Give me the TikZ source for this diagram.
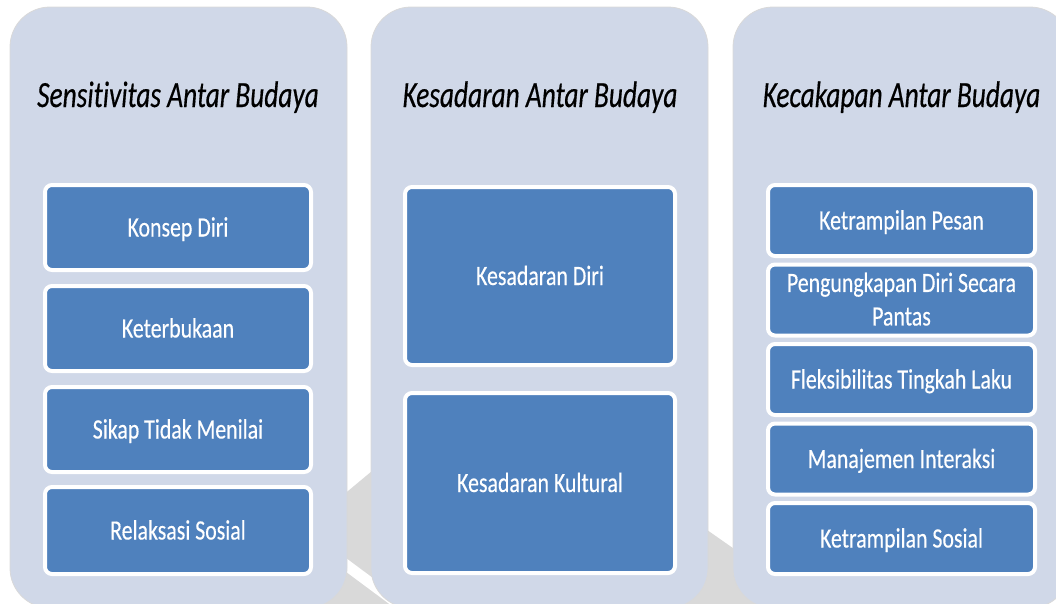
\documentclass[tikz,border=0pt]{standalone}
\usepackage{fontspec}
\setmainfont{Carlito}[FakeStretch=0.78, FakeBold=0.3, Ligatures=NoCommon]
\newfontfamily\judulfont{Carlito}[FakeStretch=0.74, FakeBold=0.4, Ligatures=NoCommon]
\definecolor{panelbiru}{HTML}{D0D8E8}
\definecolor{kotakbiru}{HTML}{4F81BD}
\definecolor{abu}{HTML}{D9D9D9}

\begin{document}
\begin{tikzpicture}[x=1pt,y=-1pt,
	panel/.style={draw=black!15, line width=0.8pt, fill=panelbiru, rounded corners=40pt,
		minimum width=337pt, minimum height=601pt, inner sep=0pt},
	judul/.style={font=\judulfont\itshape\fontsize{37}{44}\selectfont,
		text height=24pt, text depth=0pt, inner sep=0pt},
	kotak/.style={draw=white, line width=4pt, fill=kotakbiru, rounded corners=7pt,
		text=white, font=\fontsize{28}{33.5}\selectfont, align=center,
		text depth=0pt, inner sep=0pt},
	satu/.style={kotak, text height=18pt}]
	\useasboundingbox (0,0) rectangle (1056,603);
	\clip (0,0) rectangle (1056,603);
	% lengkung abu-abu di belakang
	\fill[abu] (312,640) -- (322,560) -- (330,506) -- (390,456) -- (690,518) -- (750,560) -- (830,640) -- cycle;
	\draw[white, line width=11pt] (334,556) -- (404,608);
	% tiga panel
	\node[panel] (sens) at (178.5,307.5) {};
	\node[panel] (kesad) at (539.5,307.5) {};
	\node[panel] (kecak) at (901.5,307.5) {};
	\node[judul] (jsens) at (178,95) {Sensitivitas Antar Budaya};
	\node[judul] (jkesad) at (540,95) {Kesadaran Antar Budaya};
	\node[judul] (jkecak) at (901.5,95) {Kecakapan Antar Budaya};
	% sensitivitas
	\node[satu, minimum width=266pt, minimum height=85pt] (s1) at (178,227.5) {Konsep Diri};
	\node[satu, minimum width=266pt, minimum height=85pt] (s2) at (178,328.5) {Keterbukaan};
	\node[satu, minimum width=266pt, minimum height=85pt] (s3) at (178,429.5) {Sikap Tidak Menilai};
	\node[satu, minimum width=266pt, minimum height=87pt] (s4) at (178,530.5) {Relaksasi Sosial};
	% kesadaran
	\node[satu, minimum width=270pt, minimum height=178pt] (d1) at (540,276) {Kesadaran Diri};
	\node[satu, minimum width=270pt, minimum height=180pt] (d2) at (540,483) {Kesadaran Kultural};
	% kecakapan
	\node[satu, minimum width=267pt, minimum height=71pt] (c1) at (901.5,220.5) {Ketrampilan Pesan};
	\node[kotak, minimum width=267pt, minimum height=71pt, text depth=2pt] (c2) at (901.5,300) {Pengungkapan Diri Secara\\Pantas};
	\node[satu, minimum width=267pt, minimum height=71pt] (c3) at (901.5,379.5) {Fleksibilitas Tingkah Laku};
	\node[satu, minimum width=267pt, minimum height=71pt] (c4) at (901.5,459) {Manajemen Interaksi};
	\node[satu, minimum width=267pt, minimum height=71pt] (c5) at (901.5,538.5) {Ketrampilan Sosial};
\end{tikzpicture}
\end{document}
